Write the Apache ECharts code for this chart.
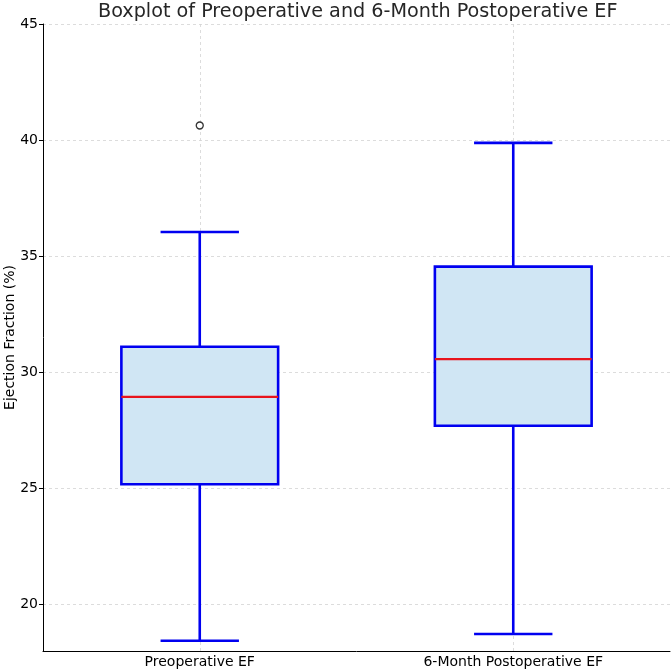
<!DOCTYPE html>
<html>
<head>
<meta charset="utf-8">
<script src="https://cdn.jsdelivr.net/npm/echarts@6/dist/echarts.min.js"></script>
<style>html,body{margin:0;padding:0;background:#fff}#c{width:672px;height:671px}</style>
</head>
<body>
<div id="c"></div>
<script>
const categories = ['Preoperative EF', '6-Month Postoperative EF'];
const whiskerLow = [18.44, 18.73];
const q1 = [25.18, 27.70];
const median = [28.94, 30.57];
const q3 = [31.10, 34.55];
const whiskerHigh = [36.04, 39.88];
const outliers = [[0, 40.63]];
const yTicks = [20, 25, 30, 35, 40, 45];

const boxData = categories.map((c, i) => [i, whiskerLow[i], q1[i], median[i], q3[i], whiskerHigh[i]]);
const FONT = 'DejaVu Sans';
const BLUE = '#0000f0';

const chart = echarts.init(document.getElementById('c'));
chart.setOption({
  animation: false,
  backgroundColor: '#fff',
  title: {
    text: 'Boxplot of Preoperative and 6-Month Postoperative EF',
    left: 93, top: -2,
    textStyle: { fontFamily: FONT, fontSize: 19.2, fontWeight: 'normal', color: '#262626' }
  },
  grid: { left: 43, right: 2, top: 24, bottom: 20, containLabel: false, outerBoundsMode: 'none' },
  xAxis: {
    type: 'category',
    data: categories,
    boundaryGap: true,
    axisLine: { lineStyle: { color: '#000', width: 1 } },
    axisTick: { alignWithLabel: true, length: 4, lineStyle: { color: '#000' } },
    axisLabel: { fontFamily: FONT, fontSize: 14, color: '#000', margin: 4 },
    splitLine: { show: false }
  },
  yAxis: {
    type: 'value',
    min: 18, max: 45,
    name: 'Ejection Fraction (%)',
    nameLocation: 'middle',
    nameGap: 26,
    nameMoveOverlap: false,
    nameTextStyle: { fontFamily: FONT, fontSize: 14, color: '#000' },
    axisLine: { show: true, lineStyle: { color: '#000', width: 1 } },
    axisTick: { show: true, length: 4, customValues: yTicks, lineStyle: { color: '#000' } },
    axisLabel: { fontFamily: FONT, fontSize: 14, color: '#000', margin: 5, customValues: yTicks },
    splitLine: { show: true, lineStyle: { color: '#d4d4d4', width: 0.8, type: [3, 3] } }
  },
  series: [
    {
      type: 'scatter',
      data: [],
      z: 0,
      markLine: {
        silent: true,
        symbol: 'none',
        z: 0,
        label: { show: false },
        lineStyle: { color: '#d4d4d4', width: 0.8, type: [3, 3] },
        data: categories.map(c => ({ xAxis: c }))
      }
    },
    {
      type: 'custom',
      z: 3,
      data: boxData,
      encode: { x: 0, y: [1, 2, 3, 4, 5] },
      renderItem: function (params, api) {
        const x = api.value(0);
        const band = api.size([1, 0])[0];
        const half = band * 0.25;
        const cap = band * 0.125;
        const pLow = api.coord([x, api.value(1)]);
        const pQ1 = api.coord([x, api.value(2)]);
        const pMed = api.coord([x, api.value(3)]);
        const pQ3 = api.coord([x, api.value(4)]);
        const pHigh = api.coord([x, api.value(5)]);
        const cx = pLow[0];
        const ls = { stroke: BLUE, lineWidth: 2.6 };
        return {
          type: 'group',
          children: [
            { type: 'line', shape: { x1: cx, y1: pLow[1], x2: cx, y2: pQ1[1] }, style: ls },
            { type: 'line', shape: { x1: cx, y1: pQ3[1], x2: cx, y2: pHigh[1] }, style: ls },
            { type: 'line', shape: { x1: cx - cap, y1: pLow[1], x2: cx + cap, y2: pLow[1] }, style: ls },
            { type: 'line', shape: { x1: cx - cap, y1: pHigh[1], x2: cx + cap, y2: pHigh[1] }, style: ls },
            { type: 'rect', shape: { x: cx - half, y: pQ3[1], width: half * 2, height: pQ1[1] - pQ3[1] },
              style: { fill: '#d0e6f4', stroke: BLUE, lineWidth: 2.6 } },
            { type: 'line', shape: { x1: cx - half, y1: pMed[1], x2: cx + half, y2: pMed[1] },
              style: { stroke: '#e8141c', lineWidth: 2.2 } }
          ]
        };
      }
    },
    {
      type: 'scatter',
      z: 4,
      data: outliers,
      symbol: 'circle',
      symbolSize: 7,
      itemStyle: { color: '#fff', borderColor: '#000', borderWidth: 1.3 }
    }
  ]
});
</script>
</body>
</html>
